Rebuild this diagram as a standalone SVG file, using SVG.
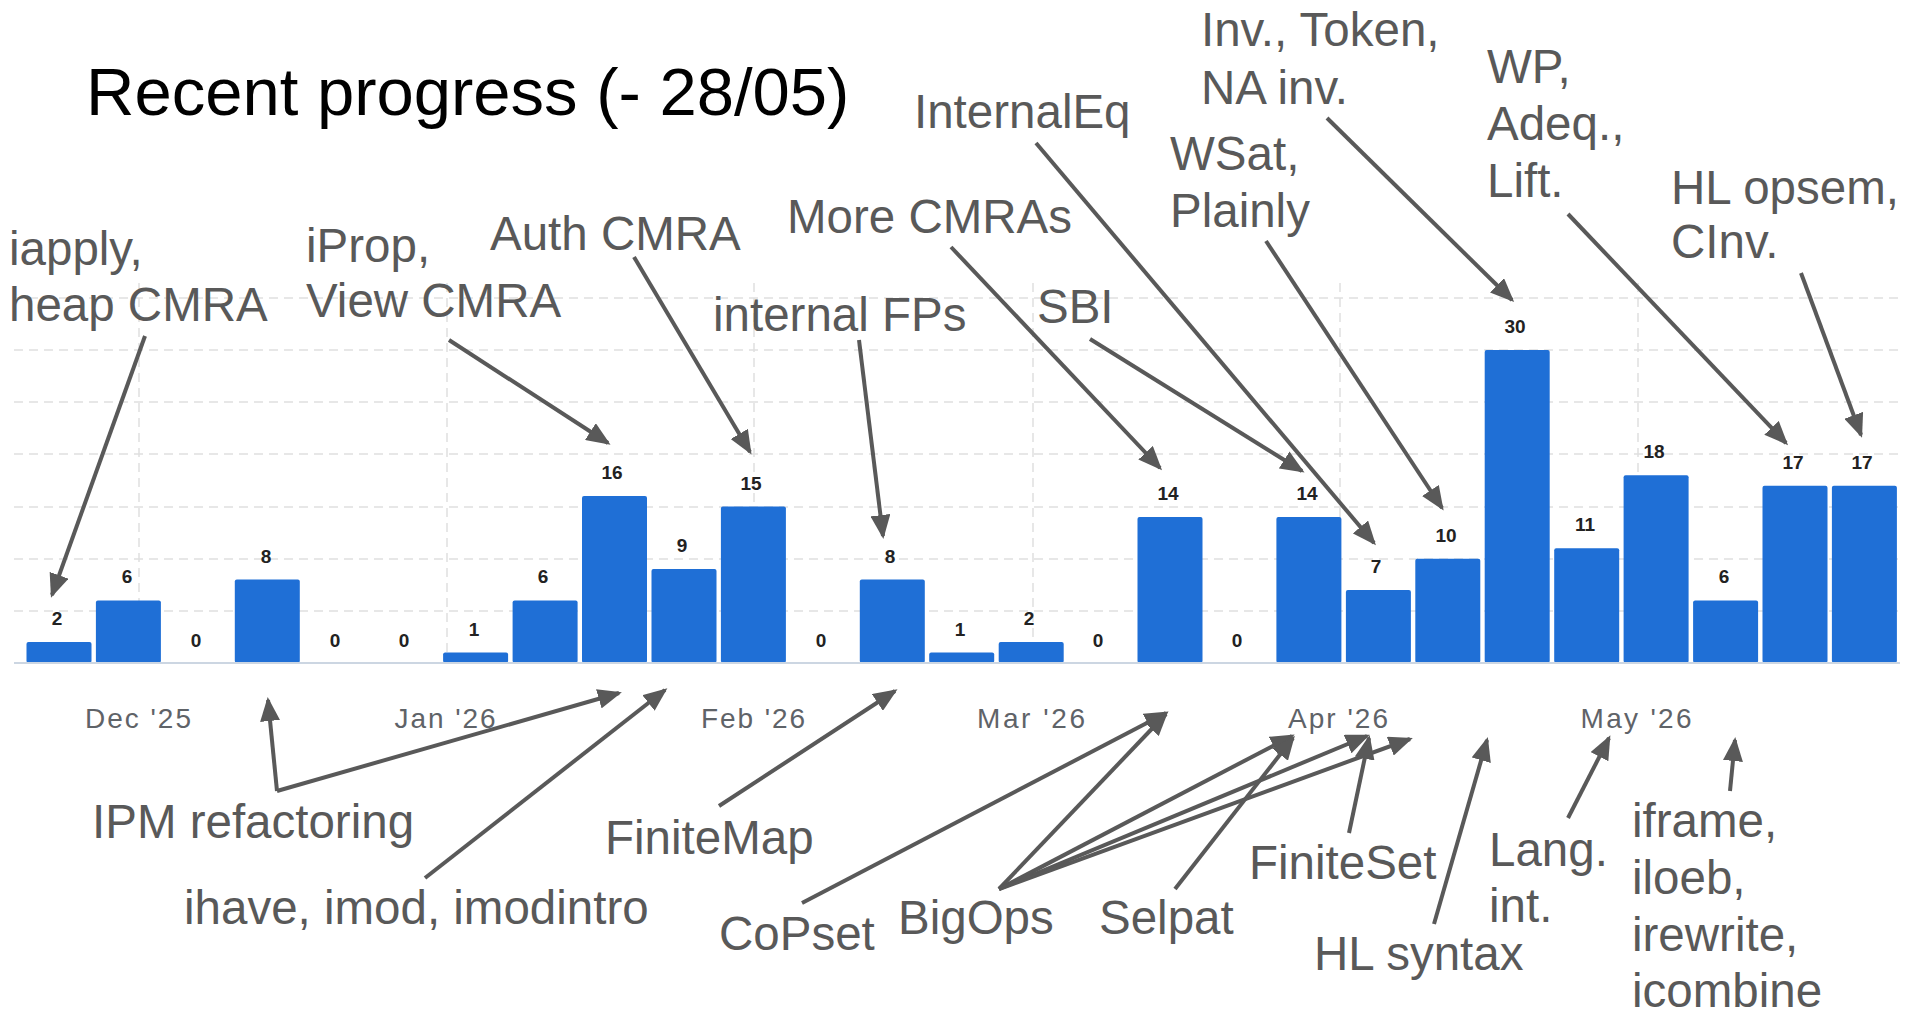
<svg xmlns="http://www.w3.org/2000/svg" width="1907" height="1019" viewBox="0 0 1907 1019">
<style>
.ann{font-family:"Liberation Sans",Arial,sans-serif;font-size:47.5px;fill:#595959}
.title{font-family:"Liberation Sans",Arial,sans-serif;font-size:67px;fill:#000}
.val{font-family:"Liberation Sans",Arial,sans-serif;font-size:19px;font-weight:bold;fill:#222;text-anchor:middle}
.mon{font-family:"Liberation Sans",Arial,sans-serif;font-size:28px;fill:#5f6368;text-anchor:middle}
.grid{stroke:#e0e0e0;stroke-width:1.5;stroke-dasharray:9 6;fill:none}
.bar{fill:#1f6fd6}
.arr{stroke:#595959;stroke-width:4;fill:none;marker-end:url(#ah)}
</style>
<defs>
<marker id="ah" markerUnits="userSpaceOnUse" markerWidth="24" markerHeight="20" refX="21" refY="10" orient="auto">
<path d="M0,0 L24,10 L0,20 Z" fill="#595959"/>
</marker>
</defs>
<rect width="1907" height="1019" fill="#fff"/>
<g id="grid">
<line class="grid" x1="14" y1="298" x2="1900" y2="298"/>
<line class="grid" x1="14" y1="350" x2="1900" y2="350"/>
<line class="grid" x1="14" y1="402" x2="1900" y2="402"/>
<line class="grid" x1="14" y1="454" x2="1900" y2="454"/>
<line class="grid" x1="14" y1="507" x2="1900" y2="507"/>
<line class="grid" x1="14" y1="559" x2="1900" y2="559"/>
<line class="grid" x1="14" y1="611" x2="1900" y2="611"/>
<line class="grid" x1="139" y1="283" x2="139" y2="663"/>
<line class="grid" x1="447" y1="283" x2="447" y2="663"/>
<line class="grid" x1="754" y1="283" x2="754" y2="663"/>
<line class="grid" x1="1033" y1="283" x2="1033" y2="663"/>
<line class="grid" x1="1340" y1="283" x2="1340" y2="663"/>
<line class="grid" x1="1638" y1="283" x2="1638" y2="663"/>
</g>
<g id="bars">
<rect class="bar" x="26.5" y="642.1" width="65" height="20.9" rx="2"/>
<rect class="bar" x="95.9" y="600.4" width="65" height="62.6" rx="2"/>
<rect class="bar" x="234.8" y="579.6" width="65" height="83.4" rx="2"/>
<rect class="bar" x="443.1" y="652.6" width="65" height="10.4" rx="2"/>
<rect class="bar" x="512.6" y="600.4" width="65" height="62.6" rx="2"/>
<rect class="bar" x="582.0" y="496.1" width="65" height="166.9" rx="2"/>
<rect class="bar" x="651.5" y="569.1" width="65" height="93.9" rx="2"/>
<rect class="bar" x="720.9" y="506.6" width="65" height="156.4" rx="2"/>
<rect class="bar" x="859.8" y="579.6" width="65" height="83.4" rx="2"/>
<rect class="bar" x="929.2" y="652.6" width="65" height="10.4" rx="2"/>
<rect class="bar" x="998.7" y="642.1" width="65" height="20.9" rx="2"/>
<rect class="bar" x="1137.5" y="517.0" width="65" height="146" rx="2"/>
<rect class="bar" x="1276.4" y="517.0" width="65" height="146" rx="2"/>
<rect class="bar" x="1345.9" y="590.0" width="65" height="73" rx="2"/>
<rect class="bar" x="1415.3" y="558.7" width="65" height="104.3" rx="2"/>
<rect class="bar" x="1484.7" y="350.1" width="65" height="312.9" rx="2"/>
<rect class="bar" x="1554.2" y="548.3" width="65" height="114.7" rx="2"/>
<rect class="bar" x="1623.6" y="475.3" width="65" height="187.7" rx="2"/>
<rect class="bar" x="1693.1" y="600.4" width="65" height="62.6" rx="2"/>
<rect class="bar" x="1762.5" y="485.7" width="65" height="177.3" rx="2"/>
<rect class="bar" x="1831.9" y="485.7" width="65" height="177.3" rx="2"/>
<line x1="14" y1="663" x2="1900" y2="663" stroke="#ccd6e2" stroke-width="2"/>
</g>
<g id="values">
<text class="val" x="57" y="625">2</text>
<text class="val" x="127" y="583">6</text>
<text class="val" x="196" y="647">0</text>
<text class="val" x="266" y="563">8</text>
<text class="val" x="335" y="647">0</text>
<text class="val" x="404" y="647">0</text>
<text class="val" x="474" y="636">1</text>
<text class="val" x="543" y="583">6</text>
<text class="val" x="612" y="479">16</text>
<text class="val" x="682" y="552">9</text>
<text class="val" x="751" y="490">15</text>
<text class="val" x="821" y="647">0</text>
<text class="val" x="890" y="563">8</text>
<text class="val" x="960" y="636">1</text>
<text class="val" x="1029" y="625">2</text>
<text class="val" x="1098" y="647">0</text>
<text class="val" x="1168" y="500">14</text>
<text class="val" x="1237" y="647">0</text>
<text class="val" x="1307" y="500">14</text>
<text class="val" x="1376" y="573">7</text>
<text class="val" x="1446" y="542">10</text>
<text class="val" x="1515" y="333">30</text>
<text class="val" x="1585" y="531">11</text>
<text class="val" x="1654" y="458">18</text>
<text class="val" x="1724" y="583">6</text>
<text class="val" x="1793" y="469">17</text>
<text class="val" x="1862" y="469">17</text>
</g>
<g id="months">
<text class="mon" x="138" y="728" textLength="106" lengthAdjust="spacing">Dec '25</text>
<text class="mon" x="445" y="728" textLength="101" lengthAdjust="spacing">Jan '26</text>
<text class="mon" x="753" y="728" textLength="104" lengthAdjust="spacing">Feb '26</text>
<text class="mon" x="1031" y="728" textLength="108" lengthAdjust="spacing">Mar '26</text>
<text class="mon" x="1338" y="728" textLength="100" lengthAdjust="spacing">Apr '26</text>
<text class="mon" x="1636" y="728" textLength="111" lengthAdjust="spacing">May '26</text>
</g>
<text class="title" x="86" y="115">Recent progress (- 28/05)</text>
<g id="n-iapply"><text class="ann" x="9" y="265">iapply,</text><text class="ann" x="9" y="321">heap CMRA</text></g>
<g id="n-iprop"><text class="ann" x="306" y="262">iProp,</text><text class="ann" x="306" y="317">View CMRA</text></g>
<g id="n-auth"><text class="ann" x="490" y="250">Auth CMRA</text></g>
<g id="n-more"><text class="ann" x="787" y="233">More CMRAs</text></g>
<g id="n-ifps"><text class="ann" x="713" y="331">internal FPs</text></g>
<g id="n-sbi"><text class="ann" x="1037" y="323">SBI</text></g>
<g id="n-ieq"><text class="ann" x="914" y="128">InternalEq</text></g>
<g id="n-inv"><text class="ann" x="1201" y="46">Inv., Token,</text><text class="ann" x="1201" y="104">NA inv.</text></g>
<g id="n-wsat"><text class="ann" x="1170" y="170">WSat,</text><text class="ann" x="1170" y="227">Plainly</text></g>
<g id="n-wp"><text class="ann" x="1487" y="83">WP,</text><text class="ann" x="1487" y="140">Adeq.,</text><text class="ann" x="1487" y="197">Lift.</text></g>
<g id="n-hlop"><text class="ann" x="1671" y="204">HL opsem,</text><text class="ann" x="1671" y="258">CInv.</text></g>
<g id="n-ipm"><text class="ann" x="92" y="838">IPM refactoring</text></g>
<g id="n-ihave"><text class="ann" x="184" y="924">ihave, imod, imodintro</text></g>
<g id="n-fmap"><text class="ann" x="605" y="854">FiniteMap</text></g>
<g id="n-copset"><text class="ann" x="719" y="950">CoPset</text></g>
<g id="n-bigops"><text class="ann" x="898" y="934">BigOps</text></g>
<g id="n-selpat"><text class="ann" x="1099" y="934">Selpat</text></g>
<g id="n-fset"><text class="ann" x="1249" y="879">FiniteSet</text></g>
<g id="n-hlsyn"><text class="ann" x="1314" y="970">HL syntax</text></g>
<g id="n-lang"><text class="ann" x="1489" y="866">Lang.</text><text class="ann" x="1489" y="922">int.</text></g>
<g id="n-iframe"><text class="ann" x="1632" y="837">iframe,</text><text class="ann" x="1632" y="894">iloeb,</text><text class="ann" x="1632" y="951">irewrite,</text><text class="ann" x="1632" y="1007">icombine</text></g>
<g id="connectors">
<line class="arr" x1="145" y1="336" x2="52" y2="595"/>
<line class="arr" x1="449" y1="340" x2="608" y2="443"/>
<line class="arr" x1="634" y1="257" x2="750" y2="452"/>
<line class="arr" x1="951" y1="247" x2="1160" y2="468"/>
<line class="arr" x1="859" y1="340" x2="883" y2="536"/>
<line class="arr" x1="1090" y1="339" x2="1302" y2="471"/>
<line class="arr" x1="1036" y1="143" x2="1374" y2="543"/>
<line class="arr" x1="1266" y1="241" x2="1442" y2="508"/>
<line class="arr" x1="1327" y1="118" x2="1512" y2="300"/>
<line class="arr" x1="1568" y1="214" x2="1786" y2="443"/>
<line class="arr" x1="1801" y1="273" x2="1861" y2="435"/>
<line class="arr" x1="277" y1="791" x2="268" y2="700"/>
<line class="arr" x1="277" y1="791" x2="619" y2="693"/>
<line class="arr" x1="425" y1="878" x2="665" y2="690"/>
<line class="arr" x1="719" y1="806" x2="895" y2="691"/>
<line class="arr" x1="802" y1="903" x2="1166" y2="713"/>
<line class="arr" x1="999" y1="889" x2="1166" y2="714"/>
<line class="arr" x1="999" y1="889" x2="1292" y2="736"/>
<line class="arr" x1="999" y1="889" x2="1367" y2="736"/>
<line class="arr" x1="999" y1="889" x2="1410" y2="739"/>
<line class="arr" x1="1175" y1="889" x2="1293" y2="738"/>
<line class="arr" x1="1349" y1="833" x2="1369" y2="738"/>
<line class="arr" x1="1434" y1="924" x2="1487" y2="740"/>
<line class="arr" x1="1568" y1="818" x2="1609" y2="738"/>
<line class="arr" x1="1730" y1="791" x2="1735" y2="740"/>
</g>
</svg>
